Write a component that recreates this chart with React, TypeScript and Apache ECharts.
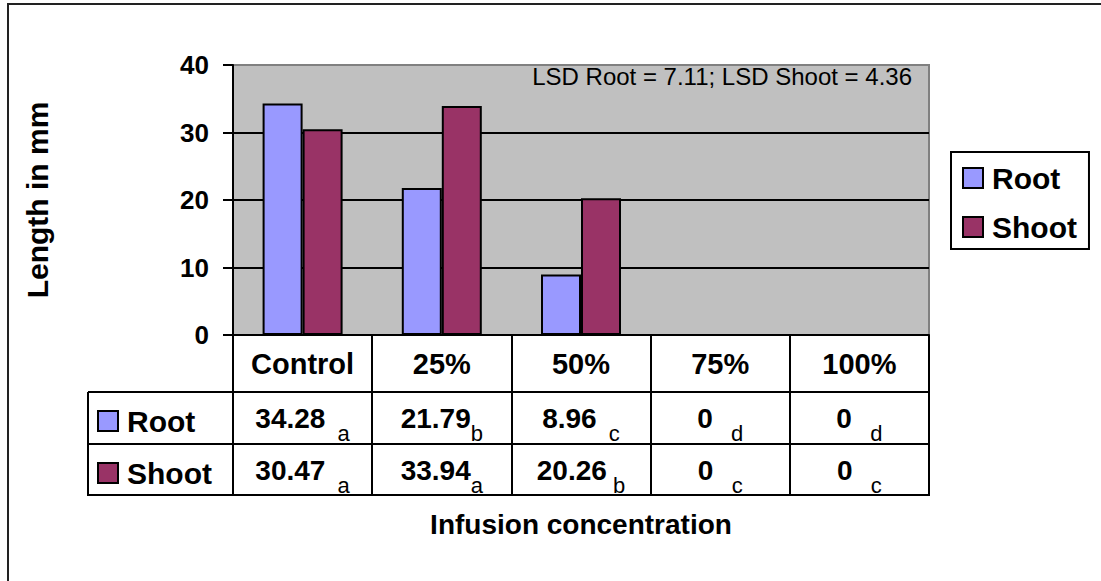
import React, { useEffect, useRef } from "react";
import * as echarts from "echarts";

const categories = ["Control", "25%", "50%", "75%", "100%"];
const rootValues = [34.28, 21.79, 8.96, 0, 0];
const shootValues = [30.47, 33.94, 20.26, 0, 0];
const rootSubs = ["  a", "b", "  c", "   d", "   d"];
const shootSubs = ["  a", "a", " b", "   c", "   c"];
const seriesNames = ["Root", "Shoot"];
const lsdText = "LSD Root = 7.11; LSD Shoot = 4.36";
const yTitle = "Length in mm";
const xTitle = "Infusion concentration";

const FONT = "Arial, 'Liberation Sans', Helvetica, sans-serif";
const GL = 233, GR = 929, GT = 65, GB = 335;
const ROW1 = 392, ROW2 = 444, ROW3 = 495, TL = 88;

export default function App() {
  const ref = useRef<HTMLDivElement>(null);
  useEffect(() => {
    if (!ref.current) return;
    const chart = echarts.init(ref.current, null, { renderer: "svg" });
    const lineStyle = { stroke: "#000", lineWidth: 2 };
    const legendText = { fontSize: 30, fontWeight: "bold", color: "#000", fontFamily: FONT, padding: [0, 0, 0, 4] };
    chart.setOption({
      animation: false,
      backgroundColor: "#fff",
      textStyle: { fontFamily: FONT },
      grid: {
        left: GL, right: 1101 - GR, top: GT, bottom: 581 - GB,
        show: true, backgroundColor: "#c0c0c0", borderColor: "#808080", borderWidth: 2,
      },
      legend: [
        {
          data: seriesNames,
          orient: "vertical",
          left: 951, top: 152,
          padding: [11, 12, 7, 11],
          itemGap: 19,
          itemWidth: 20, itemHeight: 20,
          backgroundColor: "#fff",
          borderColor: "#000", borderWidth: 2, borderRadius: 0,
          icon: "rect",
          textStyle: legendText,
          selectedMode: false,
        },
        {
          data: seriesNames,
          orient: "vertical",
          left: 97, top: 406,
          padding: 0,
          itemGap: 22,
          itemWidth: 20, itemHeight: 20,
          icon: "rect",
          textStyle: legendText,
          selectedMode: false,
        },
      ],
      xAxis: {
        type: "category",
        data: categories,
        name: xTitle,
        nameLocation: "middle",
        nameGap: 175,
        nameTextStyle: { fontSize: 28, fontWeight: "bold", color: "#000", fontFamily: FONT },
        axisLine: { show: true, lineStyle: { color: "#000", width: 2 } },
        axisTick: { show: true, interval: 0, length: ROW3 - GB, lineStyle: { color: "#000", width: 2 } },
        axisLabel: {
          interval: 0,
          margin: 0,
          color: "#000",
          formatter: (value: string, idx: number) =>
            `{h|${value}}\n{v|${rootValues[idx]}}{s|${rootSubs[idx]}}\n{v|${shootValues[idx]}}{s|${shootSubs[idx]}}`,
          rich: {
            h: { fontSize: 29, fontWeight: "bold", lineHeight: ROW1 - GB, color: "#000", fontFamily: FONT },
            v: { fontSize: 28, fontWeight: "bold", lineHeight: ROW2 - ROW1, color: "#000", fontFamily: FONT },
            s: { fontSize: 22, lineHeight: 18, verticalAlign: "bottom", color: "#000", fontFamily: FONT },
          },
        },
        splitLine: { show: false },
      },
      yAxis: {
        type: "value",
        min: 0, max: 40, interval: 10,
        name: yTitle,
        nameLocation: "middle",
        nameRotate: 90,
        nameGap: 181,
        nameTextStyle: { fontSize: 30, fontWeight: "bold", color: "#000", fontFamily: FONT },
        axisLine: { show: true, lineStyle: { color: "#000", width: 2 } },
        axisTick: { show: true, length: 10, lineStyle: { color: "#000", width: 2 } },
        axisLabel: { fontSize: 26, fontWeight: "bold", color: "#000", margin: 24, fontFamily: FONT },
        splitLine: { show: true, lineStyle: { color: ["#000", "#000", "#000", "#000", "#808080"], width: 2 } },
      },
      series: [
        {
          name: seriesNames[0], type: "bar", data: rootValues, barWidth: 40, barGap: "0%",
          itemStyle: { color: "#9999ff", borderColor: "#000", borderWidth: 2 },
        },
        {
          name: seriesNames[1], type: "bar", data: shootValues, barWidth: 40, barGap: "0%",
          itemStyle: { color: "#993366", borderColor: "#000", borderWidth: 2 },
        },
      ],
      graphic: [
        { type: "rect", shape: { x: 8, y: 4, width: 1300, height: 1000 }, style: { fill: "none", stroke: "#222", lineWidth: 2 }, silent: true },
        { type: "text", style: { x: 912, y: 76, text: lsdText, align: "right", verticalAlign: "middle", fontSize: 24, fontFamily: FONT, fill: "#000" } },
        { type: "line", shape: { x1: TL, y1: ROW1, x2: GR, y2: ROW1 }, style: lineStyle },
        { type: "line", shape: { x1: TL, y1: ROW2, x2: GR, y2: ROW2 }, style: lineStyle },
        { type: "line", shape: { x1: TL - 1, y1: ROW3, x2: GR + 1, y2: ROW3 }, style: lineStyle },
        { type: "line", shape: { x1: TL, y1: ROW1, x2: TL, y2: ROW3 }, style: lineStyle },
      ],
    });
    return () => chart.dispose();
  }, []);
  return <div ref={ref} style={{ position: "absolute", left: 0, top: 0, width: 1101, height: 581 }} />;
}
